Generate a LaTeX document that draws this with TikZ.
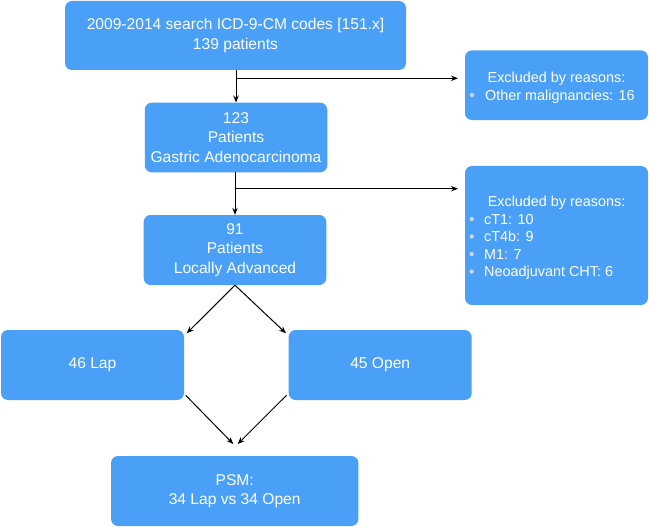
\documentclass[tikz,border=0pt]{standalone}
\usepackage{fontspec}
\setmainfont{Liberation Sans}
\usetikzlibrary{arrows.meta,calc}
\definecolor{boxblue}{RGB}{74,159,246}
\definecolor{bulgray}{RGB}{205,210,218}
\begin{document}
\begin{tikzpicture}[x=1pt,y=-1pt,
  box/.style={draw=none, fill=boxblue, rounded corners=7pt, text=white, align=center,
    inner sep=0pt, font=\fontsize{15.6}{19.3}\selectfont},
  itemtxt/.style={text=white, inner sep=0pt, anchor=west, text height=10.3pt, text depth=0pt,
    font=\fontsize{14.4}{17.5}\selectfont},
  headtxt/.style={itemtxt, anchor=center},
  bul/.style={circle, fill=bulgray, draw=none, inner sep=0pt, minimum size=4.5pt},
  arr/.style={draw=black, line width=1pt, -{Stealth[length=7pt,width=5.5pt]}}]
\useasboundingbox (0,0) rectangle (649,527);

% main boxes
\node[box, minimum width=341pt, minimum height=69pt] (b1) at (235.5,35.5)
  {2009-2014 search ICD-9-CM codes [151.x]\\139 patients};
\node[box, minimum width=182.5pt, minimum height=69.6pt] (b2) at (236,137.5)
  {123\\Patients\\Gastric Adenocarcinoma};
\node[box, minimum width=182.7pt, minimum height=70pt] (b3) at (235,250)
  {91\\Patients\\Locally Advanced};
\node[box, minimum width=183pt, minimum height=70pt] (lap) at (92.5,365) {46 Lap};
\node[box, minimum width=183pt, minimum height=70pt] (open) at (380.2,365) {45 Open};
\node[box, minimum width=247.3pt, minimum height=70pt] (psm) at (234.7,491)
  {PSM:\\34 Lap vs 34 Open};

% excluded boxes
\node[box, minimum width=183pt, minimum height=69.7pt] (e1) at (556.5,85.2) {};
\node[headtxt] (e1h) at (556.5,77.7) {Excluded by reasons:};
\node[bul] (e1b1) at (472,95) {};
\node[itemtxt] (e1i1) at (485,95) {Other malignancies: 16};

\node[box, minimum width=183pt, minimum height=139pt] (e2) at (556.5,235.5) {};
\node[headtxt] (e2h) at (556.6,201.7) {Excluded by reasons:};
\node[bul] (e2b1) at (471.7,219) {};
\node[itemtxt] (e2i1) at (484,219) {cT1: 10};
\node[bul] (e2b2) at (471.7,236.5) {};
\node[itemtxt] (e2i2) at (484,236.5) {cT4b: 9};
\node[bul] (e2b3) at (471.7,254) {};
\node[itemtxt] (e2i3) at (484,254) {M1: 7};
\node[bul] (e2b4) at (471.7,271.5) {};
\node[itemtxt] (e2i4) at (484,271.5) {Neoadjuvant CHT: 6};

% connector coordinates
\coordinate (t1) at (458,78.3);
\coordinate (j1) at (b2.north |- t1);
\coordinate (t2) at (458,188.7);
\coordinate (j2) at (b3.north |- t2);
\coordinate (tipL) at (186.7,333.3);
\coordinate (tipR) at (286,333.3);
\coordinate (srcL) at (185.7,395.3);
\coordinate (srcR) at (286.5,395.3);
\coordinate (tipP1) at (233.3,444);
\coordinate (tipP2) at (237.7,444);

% connectors
\draw[arr] (b2.north |- b1.south) -- (b2.north);
\draw[arr] (j1) -- (t1);
\draw[arr] (b3.north |- b2.south) -- (b3.north);
\draw[arr] (j2) -- (t2);
\draw[arr] (b3.south) -- (tipL);
\draw[arr] (b3.south) -- (tipR);
\draw[arr] (srcL) -- (tipP1);
\draw[arr] (srcR) -- (tipP2);
\end{tikzpicture}
\end{document}
